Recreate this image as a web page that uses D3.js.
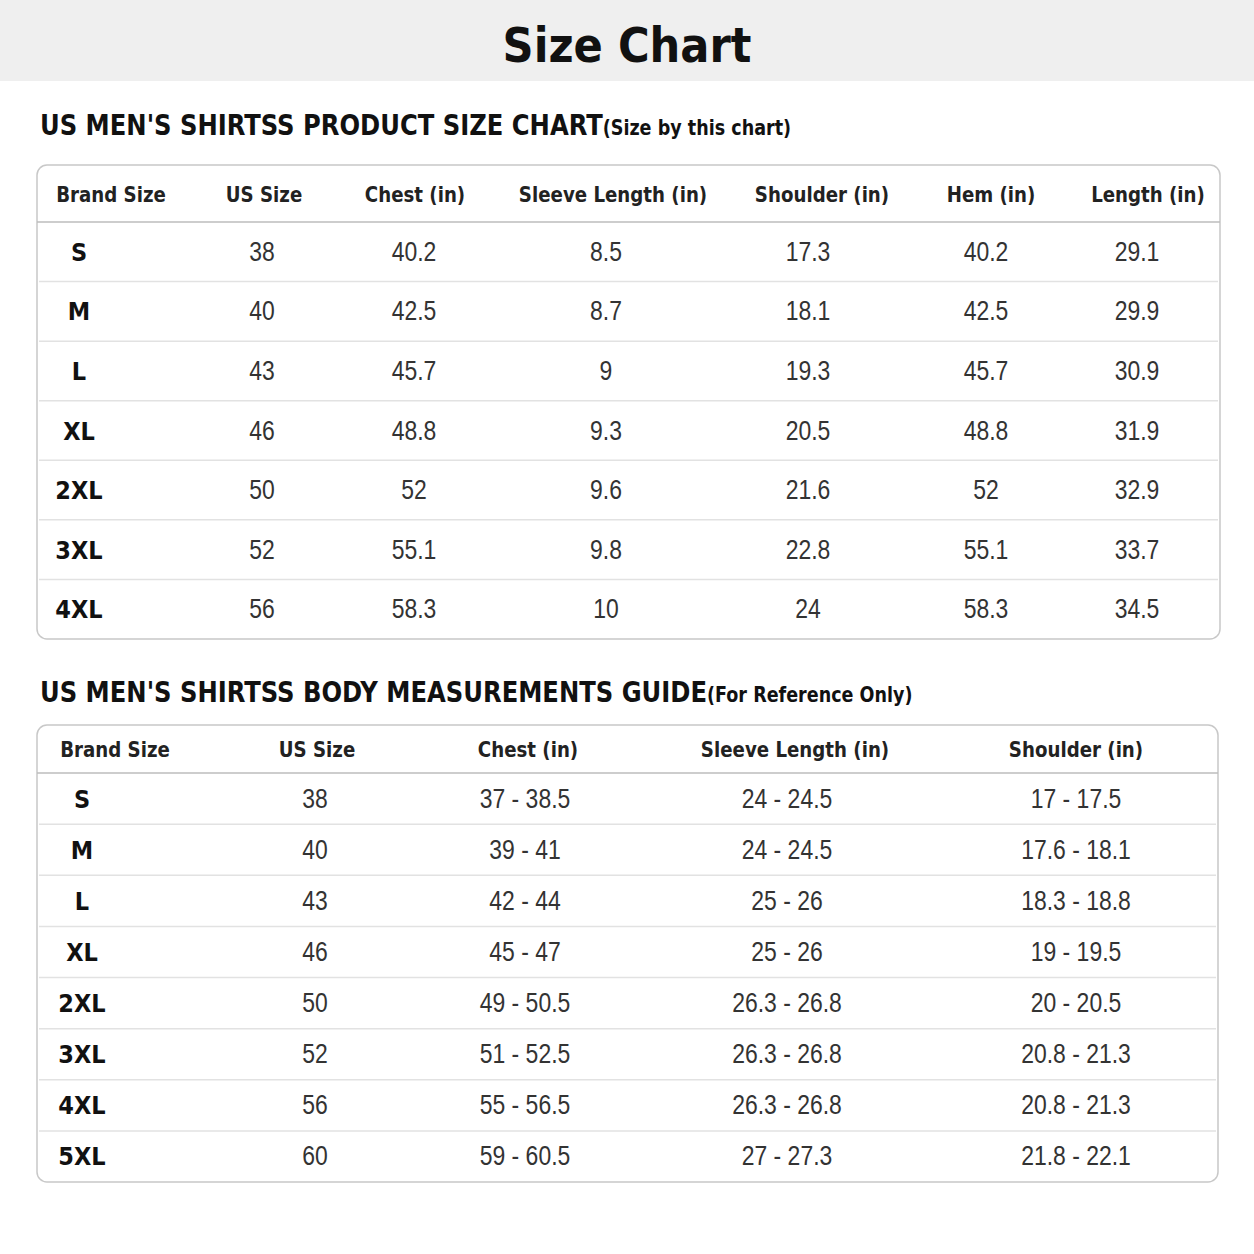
<!DOCTYPE html>
<html><head><meta charset="utf-8">
<script src="https://cdn.jsdelivr.net/npm/d3@7"></script>
<style>body{margin:0;background:#fff}</style></head>
<body><script>
const sizes1=["S","M","L","XL","2XL","3XL","4XL"];
const cols1=["Brand Size","US Size","Chest (in)","Sleeve Length (in)","Shoulder (in)","Hem (in)","Length (in)"];
const us1=["38","40","43","46","50","52","56"];
const chest1=["40.2","42.5","45.7","48.8","52","55.1","58.3"];
const sleeve1=["8.5","8.7","9","9.3","9.6","9.8","10"];
const shoulder1=["17.3","18.1","19.3","20.5","21.6","22.8","24"];
const hem1=["40.2","42.5","45.7","48.8","52","55.1","58.3"];
const length1=["29.1","29.9","30.9","31.9","32.9","33.7","34.5"];
const sizes2=["S","M","L","XL","2XL","3XL","4XL","5XL"];
const cols2=["Brand Size","US Size","Chest (in)","Sleeve Length (in)","Shoulder (in)"];
const us2=["38","40","43","46","50","52","56","60"];
const chest2=["37 - 38.5","39 - 41","42 - 44","45 - 47","49 - 50.5","51 - 52.5","55 - 56.5","59 - 60.5"];
const sleeve2=["24 - 24.5","24 - 24.5","25 - 26","25 - 26","26.3 - 26.8","26.3 - 26.8","26.3 - 26.8","27 - 27.3"];
const shoulder2=["17 - 17.5","17.6 - 18.1","18.3 - 18.8","19 - 19.5","20 - 20.5","20.8 - 21.3","20.8 - 21.3","21.8 - 22.1"];

const W=1254,H=1254;
const svg=d3.select("body").append("svg").attr("width",W).attr("height",H);
const TF="'DejaVu Sans Condensed','DejaVu Sans',sans-serif";
const NF="'Liberation Sans',sans-serif";
svg.append("rect").attr("width",W).attr("height",81).attr("fill","#efefef");
svg.append("text").attr("x",627).attr("y",62).attr("text-anchor","middle").attr("font-family",TF)
 .attr("font-weight","bold").attr("font-size",48).attr("fill","#111").text("Size Chart");

function section(y,main,sub){
 const t=svg.append("text").attr("transform",`translate(40,${y}) scale(0.93,1)`).attr("font-family",TF).attr("fill","#111");
 t.append("tspan").attr("font-weight","bold").attr("font-size",29).text(main);
 t.append("tspan").attr("font-weight","bold").attr("font-size",21).text(sub);
}
section(135,"US MEN'S SHIRTSS PRODUCT SIZE CHART","(Size by this chart)");
section(702,"US MEN'S SHIRTSS BODY MEASUREMENTS GUIDE","(For  Reference Only)");

function table(o){
 const g=svg.append("g");
 const n=o.rows.length;
 const y=d3.scaleLinear().domain([0,n]).range([o.y0+o.hh,o.y1]);
 g.append("rect").attr("x",o.x0).attr("y",o.y0).attr("width",o.x1-o.x0).attr("height",o.y1-o.y0)
  .attr("rx",10).attr("fill","#fff").attr("stroke","#c8c8c8").attr("stroke-width",1.5);
 g.append("line").attr("x1",o.x0).attr("x2",o.x1).attr("y1",o.y0+o.hh).attr("y2",o.y0+o.hh).attr("stroke","#bdbdbd").attr("stroke-width",1.5);
 g.selectAll(".rl").data(d3.range(1,n)).join("line").attr("x1",o.x0+2).attr("x2",o.x1-2)
  .attr("y1",d=>y(d)).attr("y2",d=>y(d)).attr("stroke","#e2e2e2").attr("stroke-width",1.5);
 g.selectAll(".h").data(o.cols).join("text").attr("transform",(d,i)=>`translate(${o.hx[i]},${o.y0+o.hh/2+8}) scale(0.92,1)`)
  .attr("text-anchor","middle").attr("font-family",TF).attr("font-size",22).attr("font-weight","600").attr("fill","#222").text(d=>d);
 o.rows.forEach((r,ri)=>{
  g.selectAll(".c"+ri).data(r).join("text")
   .attr("transform",(d,i)=>`translate(${o.dx[i]},${(y(ri)+y(ri+1))/2+9}) scale(${i==0?1:0.85},1)`)
   .attr("text-anchor","middle").attr("font-family",(d,i)=>i==0?TF:NF).attr("font-weight",(d,i)=>i==0?"bold":"normal")
   .attr("font-size",(d,i)=>i==0?25:27).attr("fill",(d,i)=>i==0?"#111":"#333").text(d=>d);
 });
}
table({x0:37,x1:1220,y0:165,y1:639,hh:57,cols:cols1,hx:[111,264,415,613,822,991,1148],dx:[79,262,414,606,808,986,1137],
 rows:sizes1.map((s,i)=>[s,us1[i],chest1[i],sleeve1[i],shoulder1[i],hem1[i],length1[i]])});
table({x0:37,x1:1218,y0:725,y1:1182,hh:48,cols:cols2,hx:[115,317,528,795,1076],dx:[82,315,525,787,1076],
 rows:sizes2.map((s,i)=>[s,us2[i],chest2[i],sleeve2[i],shoulder2[i]])});
</script></body></html>
